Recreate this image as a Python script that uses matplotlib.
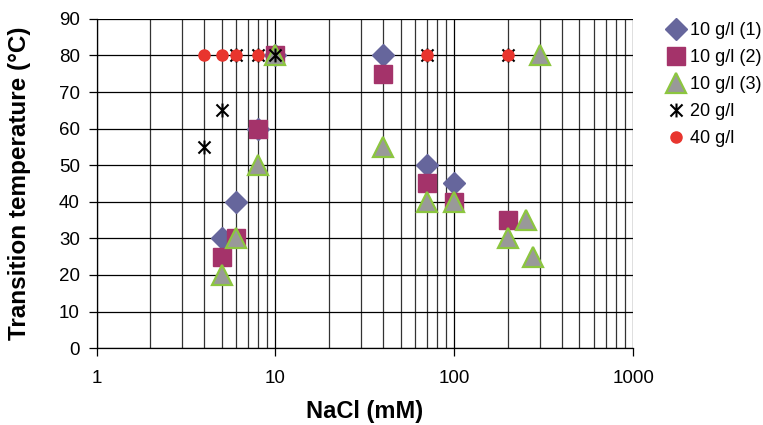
import numpy as np
import matplotlib
matplotlib.use("Agg")
import matplotlib.pyplot as plt
from matplotlib.path import Path
from matplotlib.ticker import LogLocator, FixedLocator, NullFormatter

plt.rcParams['font.family'] = ['Liberation Sans', 'DejaVu Sans']

# NaCl concentration (mM) and transition temperature (C) for each series
nacl_1 = [5, 6, 8, 10, 40, 70, 100]
temp_1 = [30, 40, 60, 80, 80, 50, 45]

nacl_2 = [5, 6, 8, 10, 40, 70, 100, 200]
temp_2 = [25, 30, 60, 80, 75, 45, 40, 35]

nacl_3 = [5, 6, 8, 10, 40, 70, 100, 200, 250, 275, 300]
temp_3 = [20, 30, 50, 80, 55, 40, 40, 30, 35, 25, 80]

nacl_20 = [4, 5, 6, 8, 10, 70, 200]
temp_20 = [55, 65, 80, 80, 80, 80, 80]

nacl_40 = [4, 5, 6, 8, 70, 200]
temp_40 = [80, 80, 80, 80, 80, 80]

labels = ["10 g/l (1)", "10 g/l (2)", "10 g/l (3)", "20 g/l", "40 g/l"]
y_ticks = [0, 10, 20, 30, 40, 50, 60, 70, 80, 90]
x_ticks = [1, 10, 100, 1000]

# excel-style asterisk: an X with a vertical bar through it
star_path = Path(
    [(-1, -1), (1, 1), (-1, 1), (1, -1), (0, -1.15), (0, 1.15)],
    [Path.MOVETO, Path.LINETO, Path.MOVETO, Path.LINETO, Path.MOVETO, Path.LINETO],
)

fig = plt.figure(figsize=(7.63, 4.25), dpi=100)
ax = fig.add_axes([0.1265, 0.181, 0.7035, 0.7745])

ax.set_xscale('log')
ax.set_xlim(1, 1000)
ax.set_ylim(0, 90)

ax.plot(nacl_1, temp_1, linestyle='none', marker='D', ms=11.5,
        color='#66669c', mec='#66669c', label=labels[0], zorder=3)
ax.plot(nacl_2, temp_2, linestyle='none', marker='s', ms=13.5,
        color='#a4336a', mec='#a4336a', label=labels[1], zorder=4)
ax.plot(nacl_3, temp_3, linestyle='none', marker='^', ms=15,
        color='#999999', mec='#8cc63f', mew=1.6, label=labels[2], zorder=5)
ax.plot(nacl_20, temp_20, linestyle='none', marker=star_path, ms=10,
        color='black', mew=1.5, label=labels[3], zorder=6)
ax.plot(nacl_40, temp_40, linestyle='none', marker='o', ms=8,
        color='#e8352e', mec='#e8352e', label=labels[4], zorder=7)

ax.xaxis.set_major_locator(FixedLocator(x_ticks))
ax.xaxis.set_minor_locator(LogLocator(base=10, subs=np.arange(2, 10)))
ax.xaxis.set_minor_formatter(NullFormatter())
ax.set_xticklabels([str(t) for t in x_ticks])
ax.set_yticks(y_ticks)

ax.grid(True, which='major', axis='both', color='black', lw=0.9)
ax.grid(True, which='minor', axis='x', color='#333333', lw=0.9)
ax.set_axisbelow(True)

for side in ['top', 'right']:
    ax.spines[side].set_visible(False)
ax.spines['left'].set_linewidth(0.9)
ax.spines['bottom'].set_linewidth(0.9)

ax.tick_params(axis='both', which='major', direction='out', length=6,
               width=0.9, labelsize=13.5, colors='black')
ax.tick_params(axis='x', which='minor', length=0)
ax.tick_params(axis='x', which='major', pad=10)
ax.tick_params(axis='y', which='major', pad=6)

ax.set_xlabel('NaCl (mM)', fontsize=17, fontweight='bold', labelpad=9)
ax.set_ylabel('Transition temperature (°C)', fontsize=17.5, fontweight='bold',
              labelpad=20)

leg = ax.legend(loc='upper left', bbox_to_anchor=(1.045, 1.012), frameon=False,
                fontsize=13, handletextpad=0.2, labelspacing=0.55,
                borderaxespad=0, handlelength=1.2)

fig.savefig('out.png', dpi=100)
